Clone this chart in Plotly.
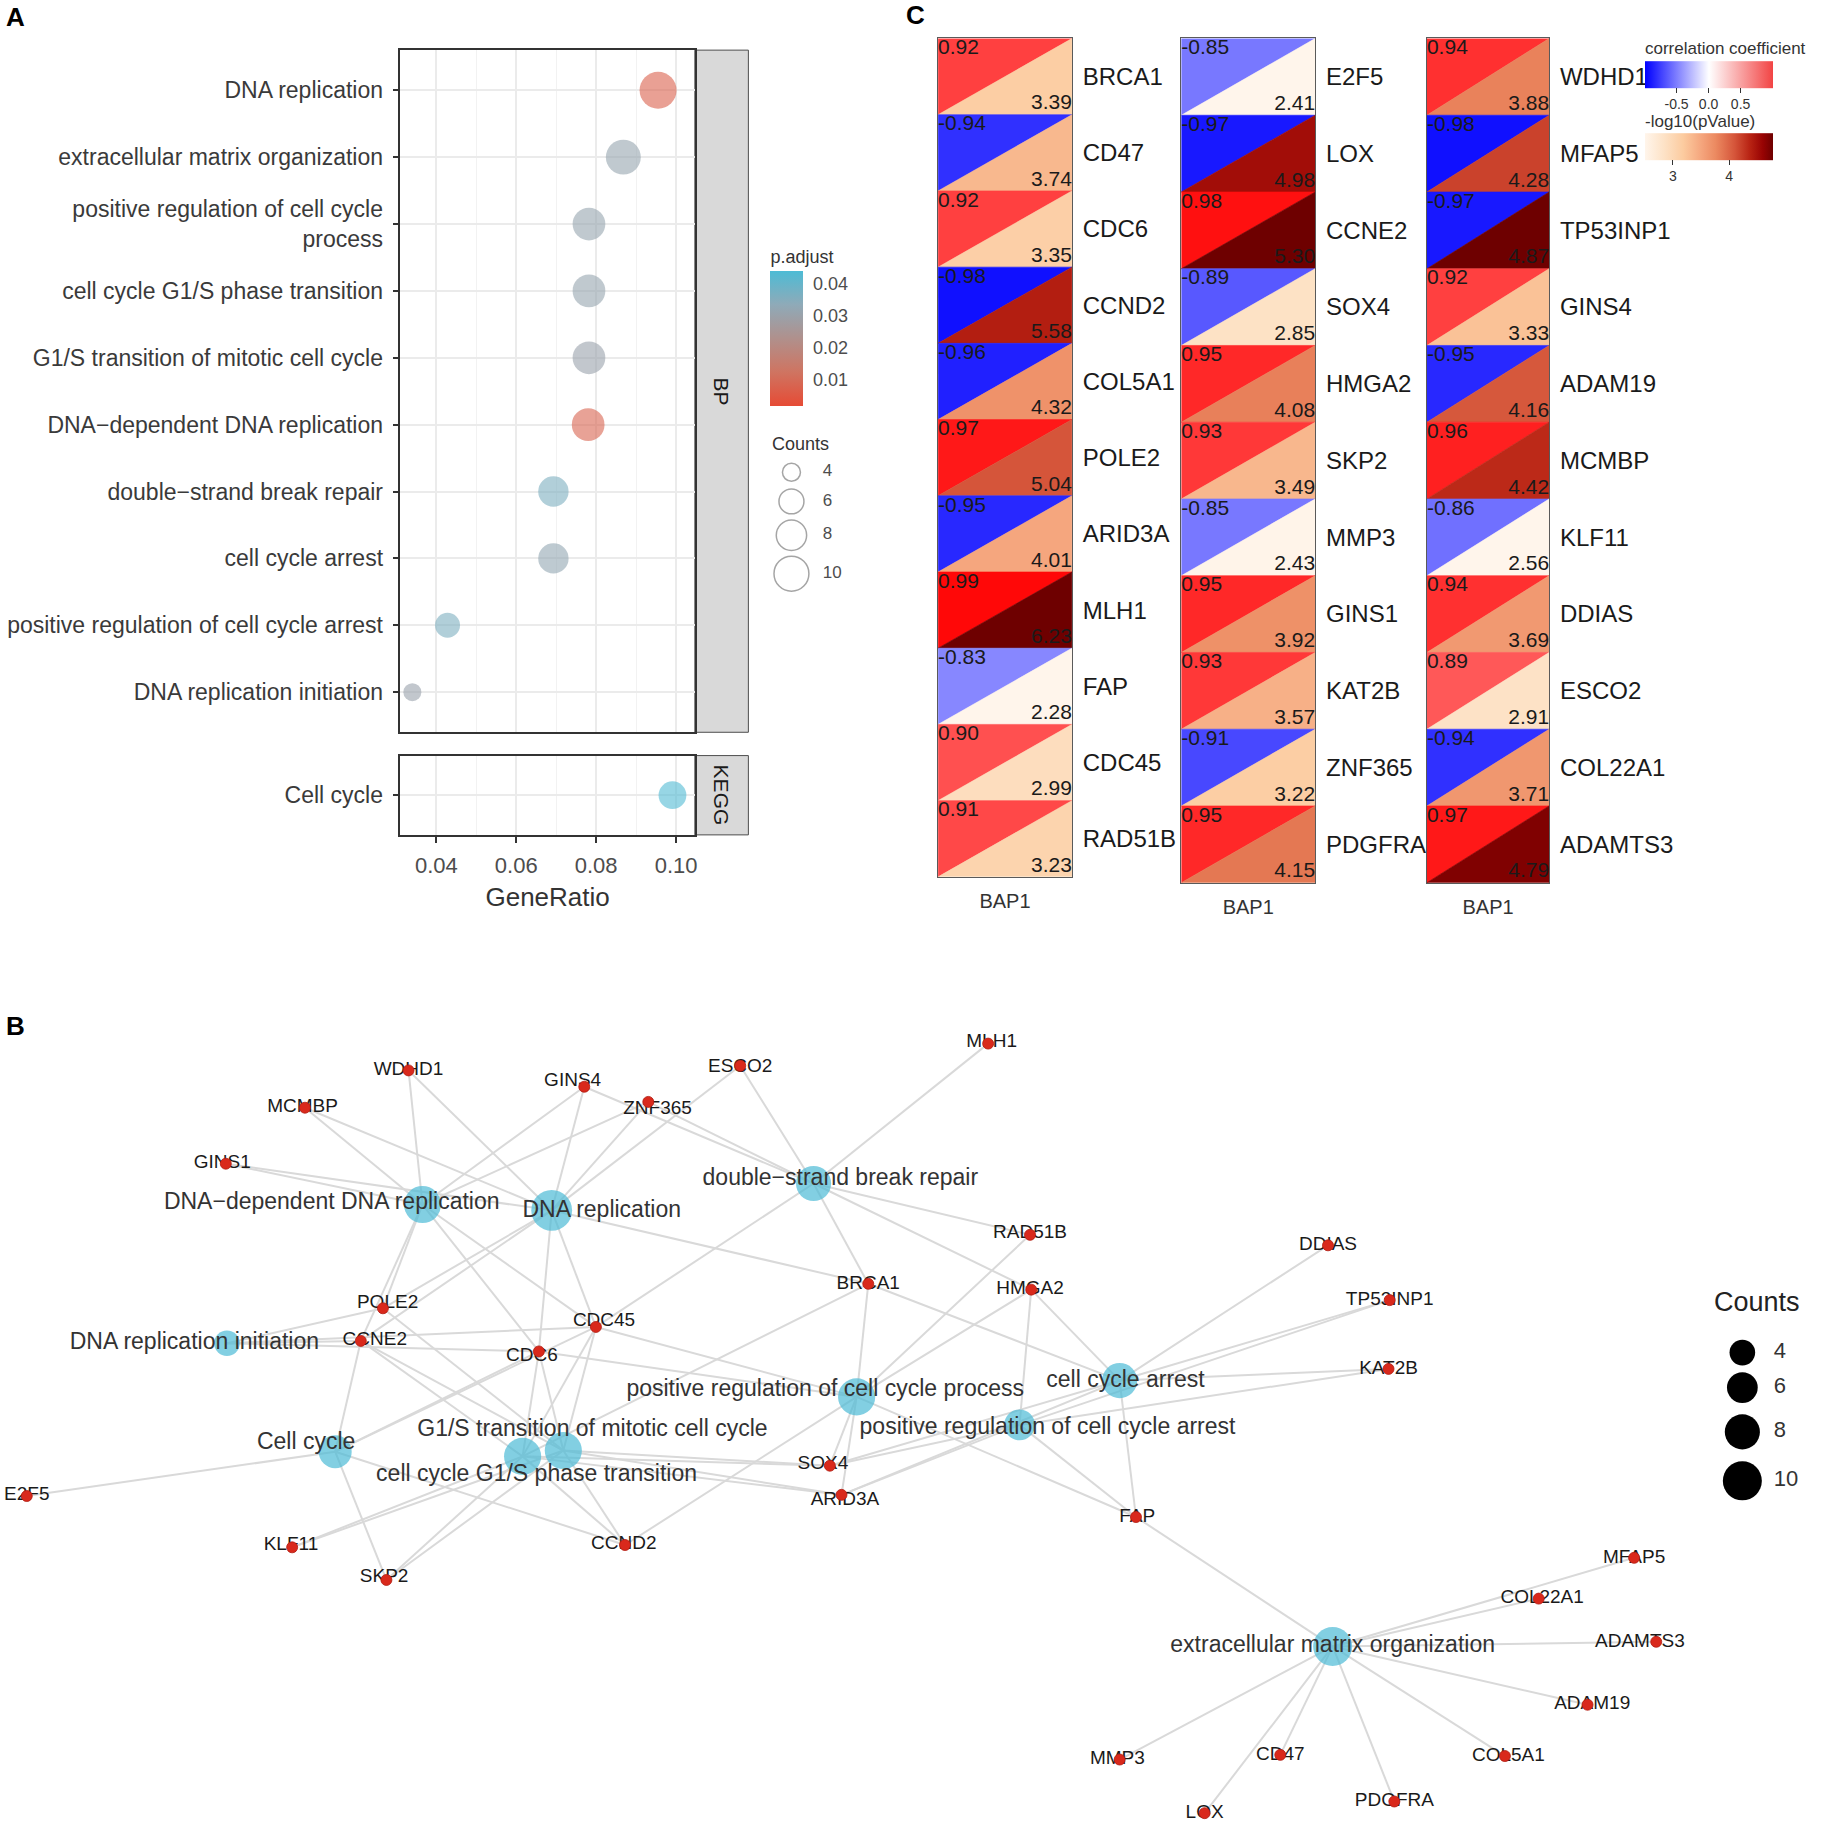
import math
import plotly.graph_objects as go
from plotly.colors import sample_colorscale

FONT = "Liberation Sans, Arial, sans-serif"
W, H = 1821, 1826
DW, DH = 1562.0, 1566.0          # measuring grid used for all layout positions
S = W / DW


def fx(v):
    return v / DW


def fy(v):
    return 1 - v / DH


# ---------------- Panel A data (enrichment dot plot) ----------------
bp_terms = ["DNA replication", "extracellular matrix organization",
            "positive regulation of cell cycle<br>process", "cell cycle G1/S phase transition",
            "G1/S transition of mitotic cell cycle", "DNA\u2212dependent DNA replication",
            "double\u2212strand break repair", "cell cycle arrest",
            "positive regulation of cell cycle arrest", "DNA replication initiation"]
bp_ratio = [0.0955, 0.0868, 0.0782, 0.0782, 0.0782, 0.0780, 0.0693, 0.0693, 0.0428, 0.0340]
bp_count = [11, 10, 9, 9, 9, 9, 8, 8, 6, 4]
bp_padj = [0.007, 0.031, 0.031, 0.031, 0.030, 0.008, 0.036, 0.032, 0.036, 0.030]
kegg_terms = ["Cell cycle"]
kegg_ratio = [0.0991]
kegg_count = [7]
kegg_padj = [0.043]
ratio_ticks = [0.04, 0.06, 0.08, 0.10]
ratio_tick_labels = ["0.04", "0.06", "0.08", "0.10"]
ratio_minor = [0.03, 0.05, 0.07, 0.09]
padj_ticks = [0.01, 0.02, 0.03, 0.04]
padj_tick_labels = ["0.01", "0.02", "0.03", "0.04"]
count_legend = [4, 6, 8, 10]

# ---------------- Panel C data (BAP1 correlations) ----------------
c1_genes = ["BRCA1", "CD47", "CDC6", "CCND2", "COL5A1", "POLE2", "ARID3A", "MLH1", "FAP", "CDC45", "RAD51B"]
c1_corr = [0.92, -0.94, 0.92, -0.98, -0.96, 0.97, -0.95, 0.99, -0.83, 0.90, 0.91]
c1_logp = [3.39, 3.74, 3.35, 5.58, 4.32, 5.04, 4.01, 6.23, 2.28, 2.99, 3.23]
c2_genes = ["E2F5", "LOX", "CCNE2", "SOX4", "HMGA2", "SKP2", "MMP3", "GINS1", "KAT2B", "ZNF365", "PDGFRA"]
c2_corr = [-0.85, -0.97, 0.98, -0.89, 0.95, 0.93, -0.85, 0.95, 0.93, -0.91, 0.95]
c2_logp = [2.41, 4.98, 5.30, 2.85, 4.08, 3.49, 2.43, 3.92, 3.57, 3.22, 4.15]
c3_genes = ["WDHD1", "MFAP5", "TP53INP1", "GINS4", "ADAM19", "MCMBP", "KLF11", "DDIAS", "ESCO2", "COL22A1", "ADAMTS3"]
c3_corr = [0.94, -0.98, -0.97, 0.92, -0.95, 0.96, -0.86, 0.94, 0.89, -0.94, 0.97]
c3_logp = [3.88, 4.28, 4.87, 3.33, 4.16, 4.42, 2.56, 3.69, 2.91, 3.71, 4.79]
corr_ticks = [-0.5, 0.0, 0.5]
corr_tick_labels = ["-0.5", "0.0", "0.5"]
logp_ticks = [3, 4]
logp_legend_range = [2.5, 4.77]

# ---------------- Panel B data (gene-concept network) ----------------
net_edges = {
    "DNA replication": ["WDHD1", "MCMBP", "GINS1", "GINS4", "ZNF365", "ESCO2", "POLE2", "CCNE2", "CDC45", "CDC6", "BRCA1"],
    "DNA\u2212dependent DNA replication": ["WDHD1", "MCMBP", "GINS1", "GINS4", "ZNF365", "POLE2", "CCNE2", "CDC45", "CDC6"],
    "double\u2212strand break repair": ["GINS4", "ZNF365", "ESCO2", "MLH1", "RAD51B", "HMGA2", "BRCA1", "CDC45"],
    "DNA replication initiation": ["POLE2", "CCNE2", "CDC45", "CDC6"],
    "Cell cycle": ["E2F5", "CCNE2", "CDC6", "CDC45", "CCND2", "SKP2"],
    "G1/S transition of mitotic cell cycle": ["CCNE2", "CDC6", "CDC45", "CCND2", "SKP2", "KLF11", "SOX4", "ARID3A", "POLE2"],
    "cell cycle G1/S phase transition": ["CCNE2", "CDC6", "CDC45", "CCND2", "SKP2", "KLF11", "SOX4", "ARID3A", "BRCA1"],
    "positive regulation of cell cycle process": ["BRCA1", "HMGA2", "RAD51B", "CDC45", "CDC6", "CCND2", "SOX4", "ARID3A", "FAP"],
    "cell cycle arrest": ["DDIAS", "TP53INP1", "KAT2B", "HMGA2", "BRCA1", "FAP", "SOX4", "ARID3A"],
    "positive regulation of cell cycle arrest": ["HMGA2", "SOX4", "ARID3A", "FAP", "TP53INP1", "KAT2B"],
    "extracellular matrix organization": ["MFAP5", "COL22A1", "ADAMTS3", "ADAM19", "COL5A1", "PDGFRA", "CD47", "LOX", "MMP3", "FAP"],
}

# network layout coordinates (measuring grid)
term_xy = {
    "DNA replication": (474, 1038), "DNA\u2212dependent DNA replication": (363, 1033),
    "double\u2212strand break repair": (699, 1015), "DNA replication initiation": (195, 1152),
    "Cell cycle": (288, 1245), "G1/S transition of mitotic cell cycle": (484, 1244),
    "cell cycle G1/S phase transition": (449, 1249), "positive regulation of cell cycle process": (736, 1198),
    "cell cycle arrest": (962, 1184), "positive regulation of cell cycle arrest": (876, 1222),
    "extracellular matrix organization": (1145, 1412),
}
term_label_xy = {
    "DNA replication": (517, 1039), "DNA\u2212dependent DNA replication": (285, 1032),
    "double\u2212strand break repair": (722, 1011), "DNA replication initiation": (167, 1152),
    "Cell cycle": (263, 1238), "G1/S transition of mitotic cell cycle": (509, 1227),
    "cell cycle G1/S phase transition": (461, 1265), "positive regulation of cell cycle process": (709, 1192),
    "cell cycle arrest": (967, 1185), "positive regulation of cell cycle arrest": (900, 1225),
    "extracellular matrix organization": (1145, 1412),
}
gene_xy = {
    "WDHD1": (351, 918), "MCMBP": (262, 950), "GINS1": (194, 998), "GINS4": (502, 932),
    "ZNF365": (557, 945), "ESCO2": (636, 914), "MLH1": (849, 895), "POLE2": (329, 1122),
    "CCNE2": (310, 1150), "CDC45": (512, 1138), "CDC6": (463, 1159), "BRCA1": (746, 1101),
    "RAD51B": (885, 1059), "HMGA2": (886, 1106), "DDIAS": (1141, 1068), "TP53INP1": (1194, 1115),
    "KAT2B": (1193, 1174), "SOX4": (713, 1257), "ARID3A": (723, 1282), "FAP": (976, 1301),
    "CCND2": (537, 1325), "KLF11": (251, 1327), "SKP2": (332, 1355), "E2F5": (23, 1283),
    "MFAP5": (1404, 1336), "COL22A1": (1322, 1371), "ADAMTS3": (1423, 1408), "ADAM19": (1364, 1462),
    "COL5A1": (1293, 1506), "PDGFRA": (1198, 1545), "CD47": (1100, 1505), "LOX": (1035, 1555),
    "MMP3": (962, 1509),
}
gene_label_xy = {
    "WDHD1": (351, 918), "MCMBP": (260, 950), "GINS1": (191, 998), "GINS4": (492, 927),
    "ZNF365": (565, 951), "ESCO2": (636, 915), "MLH1": (852, 894), "POLE2": (333, 1118),
    "CCNE2": (322, 1149), "CDC45": (519, 1133), "CDC6": (457, 1163), "BRCA1": (746, 1101),
    "RAD51B": (885, 1058), "HMGA2": (885, 1106), "DDIAS": (1141, 1068), "TP53INP1": (1194, 1115),
    "KAT2B": (1193, 1174), "SOX4": (707, 1256), "ARID3A": (726, 1287), "FAP": (977, 1301),
    "CCND2": (536, 1324), "KLF11": (250, 1325), "SKP2": (330, 1353), "E2F5": (23, 1282),
    "MFAP5": (1404, 1336), "COL22A1": (1325, 1371), "ADAMTS3": (1409, 1408), "ADAM19": (1368, 1462),
    "COL5A1": (1296, 1506), "PDGFRA": (1198, 1545), "CD47": (1100, 1505), "LOX": (1035, 1555),
    "MMP3": (960, 1509),
}

# ---------------- styles ----------------
CS_A = [[0, "#E64B35"], [0.25, "#CF7461"], [0.5, "#B0908C"], [0.75, "#8FAAB8"], [1, "#4DBBD5"]]
PMIN, PMAX = 0.0015, 0.0437
CS_R_CELL = [[0, "#0000FF"], [0.16, "#FFFFFF"], [0.84, "#FFFFFF"], [1, "#FF0000"]]
CS_R_LEG = [[0, "#0000FF"], [0.5, "#FFFFFF"], [1, "#F24444"]]
CS_P = [[0, "#FFF5EB"], [0.15, "#FDE2C6"], [0.3, "#FCCB9F"], [0.45, "#F4A37B"], [0.55, "#EC8A61"],
        [0.7, "#D5553A"], [0.82, "#B82313"], [0.92, "#980303"], [1, "#6E0000"]]
TERM_BLUE = "#4DBBD5"
GENE_RED = "#D9291C"
DOT_OPACITY = 0.6


def dot_a(c):
    return math.sqrt(max(1.0, -273 + 149.3 * c))


def dot_b(c):
    return math.sqrt(60.4 + 105.9 * c) * S


fig = go.Figure()

# ---------------- Panel A traces ----------------
fig.add_trace(go.Scatter(
    x=bp_ratio, y=bp_terms, mode="markers", xaxis="x", yaxis="y", hoverinfo="skip", showlegend=False,
    marker=dict(size=[dot_a(c) for c in bp_count], color=bp_padj, colorscale=CS_A, cmin=PMIN, cmax=PMAX,
                opacity=DOT_OPACITY, line=dict(width=0), showscale=True,
                colorbar=dict(x=fx(662), xanchor="left", y=fy(280), yanchor="middle", len=137 / DH,
                              lenmode="fraction", thickness=28 * S, xpad=0, ypad=0, outlinewidth=0,
                              tickvals=padj_ticks, ticktext=padj_tick_labels, ticks="outside",
                              tickcolor="rgba(0,0,0,0)", ticklen=7,
                              tickfont=dict(size=18, color="#4D4D4D", family=FONT),
                              title=dict(text="p.adjust", side="top",
                                         font=dict(size=18, color="#333333", family=FONT))))))
fig.add_trace(go.Scatter(
    x=kegg_ratio, y=kegg_terms, mode="markers", xaxis="x2", yaxis="y2", hoverinfo="skip", showlegend=False,
    marker=dict(size=[dot_a(c) for c in kegg_count], color=kegg_padj, colorscale=CS_A, cmin=PMIN, cmax=PMAX,
                opacity=DOT_OPACITY, line=dict(width=0), showscale=False)))

# Counts legend (panel A)
leg_y_a = [405, 430, 459, 492]
fig.add_trace(go.Scatter(
    x=[680] * 4, y=leg_y_a, mode="markers", xaxis="x6", yaxis="y6", hoverinfo="skip", showlegend=False,
    marker=dict(size=[dot_a(c) for c in count_legend], color="rgba(0,0,0,0)",
                line=dict(color="#808080", width=1.5))))
fig.add_trace(go.Scatter(
    x=[707] * 4, y=leg_y_a, mode="text", text=[str(c) for c in count_legend], textposition="middle right",
    xaxis="x6", yaxis="y6", hoverinfo="skip", showlegend=False,
    textfont=dict(size=17, color="#4D4D4D", family=FONT)))

# ---------------- Panel C traces ----------------
columns = [(c1_genes, c1_corr, c1_logp, "x3", "y3"),
           (c2_genes, c2_corr, c2_logp, "x4", "y4"),
           (c3_genes, c3_corr, c3_logp, "x5", "y5")]
for genes, corr, logp, xa, ya in columns:
    pmin, pmax = min(logp), max(logp)
    for i, (r, p) in enumerate(zip(corr, logp)):
        rc = sample_colorscale(CS_R_CELL, [(r + 1) / 2])[0]
        pc = sample_colorscale(CS_P, [(p - pmin) / (pmax - pmin)])[0]
        fig.add_trace(go.Scatter(x=[0, 0, 1, 0], y=[i + 1, i, i, i + 1], mode="lines", fill="toself",
                                 fillcolor=rc, line=dict(width=0.6, color=rc), xaxis=xa, yaxis=ya,
                                 hoverinfo="skip", showlegend=False))
        fig.add_trace(go.Scatter(x=[0, 1, 1, 0], y=[i + 1, i + 1, i, i + 1], mode="lines", fill="toself",
                                 fillcolor=pc, line=dict(width=0.6, color=pc), xaxis=xa, yaxis=ya,
                                 hoverinfo="skip", showlegend=False))
    n = len(genes)
    fig.add_trace(go.Scatter(x=[0] * n, y=list(range(n)), mode="text", text=[f"{v:.2f}" for v in corr],
                             textposition="bottom right", xaxis=xa, yaxis=ya, cliponaxis=False,
                             hoverinfo="skip", showlegend=False,
                             textfont=dict(size=21, color="#1A1A1A", family=FONT)))
    fig.add_trace(go.Scatter(x=[1] * n, y=[i + 1 for i in range(n)], mode="text",
                             text=[f"{v:.2f}" for v in logp], textposition="top left", xaxis=xa, yaxis=ya,
                             cliponaxis=False, hoverinfo="skip", showlegend=False,
                             textfont=dict(size=21, color="#1A1A1A", family=FONT)))

# colour legends of panel C (dummy points outside the visible range)
fig.add_trace(go.Scatter(
    x=[-100, -100], y=[-100, -100], mode="markers", xaxis="x6", yaxis="y6", hoverinfo="skip", showlegend=False,
    marker=dict(size=1, color=[-1, 1], colorscale=CS_R_LEG, cmin=-1, cmax=1, showscale=True,
                colorbar=dict(orientation="h", x=fx(1468), xanchor="center", y=fy(97), yanchor="bottom",
                              len=110 / DW, lenmode="fraction", thickness=23 * S, xpad=0, ypad=0,
                              outlinewidth=0, tickvals=corr_ticks, ticktext=corr_tick_labels,
                              ticks="outside", ticklen=5, tickcolor="#333333",
                              tickfont=dict(size=14, color="#333333", family=FONT)))))
fig.add_trace(go.Scatter(
    x=[-100, -100], y=[-100, -100], mode="markers", xaxis="x6", yaxis="y6", hoverinfo="skip", showlegend=False,
    marker=dict(size=1, color=logp_legend_range, colorscale=CS_P, cmin=logp_legend_range[0],
                cmax=logp_legend_range[1], showscale=True,
                colorbar=dict(orientation="h", x=fx(1468), xanchor="center", y=fy(159), yanchor="bottom",
                              len=110 / DW, lenmode="fraction", thickness=23 * S, xpad=0, ypad=0,
                              outlinewidth=0, tickvals=logp_ticks, ticks="outside", ticklen=5,
                              tickcolor="#333333", tickfont=dict(size=14, color="#333333", family=FONT)))))

# ---------------- Panel B traces ----------------
term_count = {t.replace("<br>", " "): c for t, c in zip(bp_terms, bp_count)}
term_count.update({t: c for t, c in zip(kegg_terms, kegg_count)})

ex, ey = [], []
for term, genes in net_edges.items():
    tx, ty = term_xy[term]
    for g in genes:
        gx, gy = gene_xy[g]
        ex += [tx, gx, None]
        ey += [ty, gy, None]
fig.add_trace(go.Scatter(x=ex, y=ey, mode="lines", xaxis="x6", yaxis="y6", hoverinfo="skip",
                         showlegend=False, line=dict(color="#D9D9D9", width=2)))

terms = list(net_edges.keys())
fig.add_trace(go.Scatter(
    x=[term_xy[t][0] for t in terms], y=[term_xy[t][1] for t in terms], mode="markers",
    xaxis="x6", yaxis="y6", hoverinfo="skip", showlegend=False,
    marker=dict(size=[dot_b(term_count[t]) for t in terms], color=TERM_BLUE, line=dict(width=0))))

genes_all = list(gene_xy.keys())
fig.add_trace(go.Scatter(
    x=[gene_label_xy[g][0] for g in genes_all], y=[gene_label_xy[g][1] for g in genes_all], mode="text",
    text=genes_all, textposition="middle center", xaxis="x6", yaxis="y6", hoverinfo="skip",
    showlegend=False, textfont=dict(size=19, color="#1A1A1A", family=FONT)))
fig.add_trace(go.Scatter(
    x=[gene_xy[g][0] for g in genes_all], y=[gene_xy[g][1] for g in genes_all], mode="markers",
    xaxis="x6", yaxis="y6", hoverinfo="skip", showlegend=False,
    marker=dict(size=11, color=GENE_RED, line=dict(width=0.8, color="#B01A10"))))
fig.add_trace(go.Scatter(
    x=[term_label_xy[t][0] for t in terms], y=[term_label_xy[t][1] for t in terms], mode="text",
    text=terms, textposition="middle center", xaxis="x6", yaxis="y6", hoverinfo="skip", showlegend=False,
    textfont=dict(size=23, color="#333333", family=FONT)))

# Counts legend (panel B)
leg_y_b = [1160, 1190, 1228, 1270]
fig.add_trace(go.Scatter(
    x=[1497] * 4, y=leg_y_b, mode="markers", xaxis="x6", yaxis="y6", hoverinfo="skip", showlegend=False,
    marker=dict(size=[dot_b(c) for c in count_legend], color="#000000", opacity=1, line=dict(width=0))))
fig.add_trace(go.Scatter(
    x=[1524] * 4, y=leg_y_b, mode="text", text=[str(c) for c in count_legend], textposition="middle right",
    xaxis="x6", yaxis="y6", hoverinfo="skip", showlegend=False,
    textfont=dict(size=22, color="#333333", family=FONT)))

# ---------------- layout ----------------
box = dict(showline=True, mirror=True, linecolor="#333333", linewidth=1.5, zeroline=False)
grid_minor = dict(tickvals=ratio_minor, showgrid=True, gridcolor="#F2F2F2", gridwidth=1, ticks="")
xr = [0.031, 0.1047]

layout = dict(
    width=W, height=H, margin=dict(l=0, r=0, t=0, b=0), paper_bgcolor="white",
    plot_bgcolor="rgba(0,0,0,0)",
    font=dict(family=FONT, color="#333333"), showlegend=False,
    xaxis=dict(domain=[fx(344), fx(597)], range=xr, anchor="y", tickvals=ratio_ticks, showticklabels=False,
               ticks="", showgrid=True, gridcolor="#EBEBEB", gridwidth=1.5, minor=grid_minor, **box),
    yaxis=dict(domain=[fy(628), fy(43)], anchor="x", type="category", categoryorder="array",
               categoryarray=bp_terms, range=[9.6, -0.6], ticks="outside", ticklen=6, tickwidth=1.5,
               tickcolor="#333333", ticklabelstandoff=5,
               tickfont=dict(size=23, color="#3A3A3A", family=FONT),
               showgrid=True, gridcolor="#EBEBEB", gridwidth=1.5, **box),
    xaxis2=dict(domain=[fx(344), fx(597)], range=xr, anchor="y2", tickvals=ratio_ticks,
                ticktext=ratio_tick_labels, ticks="outside", ticklen=6, tickwidth=1.5, tickcolor="#333333",
                ticklabelstandoff=4, tickfont=dict(size=22, color="#4D4D4D", family=FONT),
                title=dict(text="GeneRatio", standoff=11, font=dict(size=26, color="#333333", family=FONT)),
                showgrid=True, gridcolor="#EBEBEB", gridwidth=1.5, minor=grid_minor, **box),
    yaxis2=dict(domain=[fy(716), fy(648)], anchor="x2", type="category", categoryorder="array",
                categoryarray=kegg_terms, range=[0.6, -0.6], ticks="outside", ticklen=6, tickwidth=1.5,
                tickcolor="#333333", ticklabelstandoff=5,
                tickfont=dict(size=23, color="#3A3A3A", family=FONT),
                showgrid=True, gridcolor="#EBEBEB", gridwidth=1.5, **box),
    xaxis6=dict(domain=[0, 1], range=[0, DW], anchor="y6", visible=False, fixedrange=True),
    yaxis6=dict(domain=[0, 1], range=[DH, 0], anchor="x6", visible=False, fixedrange=True),
)

col_geo = [("3", 806, 921, 752, c1_genes), ("4", 1015, 1130, 757, c2_genes), ("5", 1226, 1331, 757, c3_genes)]
cbox = dict(showline=True, mirror=True, linecolor="#5A5A5A", linewidth=1, zeroline=False, showgrid=False)
for k, x0, x1, ybot, genes in col_geo:
    layout["xaxis" + k] = dict(domain=[fx(x0), fx(x1)], range=[0, 1], anchor="y" + k, tickvals=[0.5],
                               ticktext=["BAP1"], ticks="", ticklabelstandoff=6,
                               tickfont=dict(size=20, color="#333333", family=FONT), **cbox)
    layout["yaxis" + k] = dict(domain=[fy(ybot), fy(33)], range=[len(genes), 0], anchor="x" + k, side="right",
                               tickvals=[i + 0.5 for i in range(len(genes))], ticktext=genes, ticks="",
                               ticklabelstandoff=5, tickfont=dict(size=24, color="#1A1A1A", family=FONT),
                               **cbox)

fig.update_layout(**layout)

# strips of panel A
for (y0, y1, lab) in [(43, 628, "BP"), (648, 716, "KEGG")]:
    fig.add_shape(type="rect", xref="paper", yref="paper", x0=fx(597), x1=fx(643), y0=fy(y1), y1=fy(y0),
                  fillcolor="#D9D9D9", line=dict(color="#4D4D4D", width=1), layer="below")
    fig.add_annotation(x=fx(620), y=fy((y0 + y1) / 2), xref="paper", yref="paper", text=lab, showarrow=False,
                       textangle=90, xanchor="center", yanchor="middle",
                       font=dict(size=21, color="#1A1A1A", family=FONT))

# legend titles and panel letters
fig.add_annotation(x=fx(662), y=fy(381), xref="paper", yref="paper", text="Counts", showarrow=False,
                   xanchor="left", yanchor="middle", font=dict(size=18, color="#333333", family=FONT))
fig.add_annotation(x=fx(1510), y=fy(1117), xref="paper", yref="paper", text="Counts", showarrow=False,
                   xanchor="center", yanchor="middle", font=dict(size=27, color="#222222", family=FONT))
fig.add_annotation(x=fx(1412), y=fy(42), xref="paper", yref="paper", text="correlation coefficient",
                   showarrow=False, xanchor="left", yanchor="middle",
                   font=dict(size=17, color="#333333", family=FONT))
fig.add_annotation(x=fx(1412), y=fy(104), xref="paper", yref="paper", text="-log10(pValue)",
                   showarrow=False, xanchor="left", yanchor="middle",
                   font=dict(size=17, color="#333333", family=FONT))
for lab, x, y in [("A", 13, 15), ("B", 13, 880), ("C", 787, 13)]:
    fig.add_annotation(x=fx(x), y=fy(y), xref="paper", yref="paper", text="<b>" + lab + "</b>",
                       showarrow=False, xanchor="center", yanchor="middle",
                       font=dict(size=26, color="black", family=FONT))

fig.write_html("out.html", config={"displayModeBar": False},
               post_script="document.body.style.margin='0px';document.body.style.padding='0px';")
